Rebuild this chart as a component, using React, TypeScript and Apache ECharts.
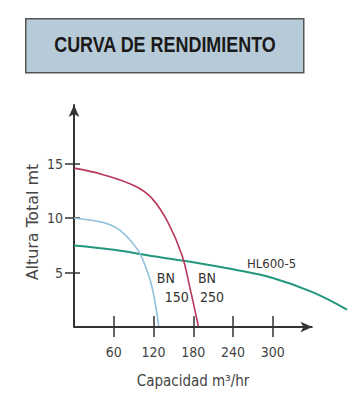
import React, { useEffect, useRef } from "react";
import * as echarts from "echarts";

const title = "CURVA DE RENDIMIENTO";
const xName = "Capacidad m³/hr";
const yName = "Altura Total mt";
const xTicks = [60, 120, 180, 240, 300];
const yTicks = [5, 10, 15];
const xAxisEnd = 360;

// BN 250 (red)
const bn250: [number, number][] = [
  [0, 14.6], [44, 14.0], [92, 12.95], [118, 11.8], [142, 9.6], [163, 6.6], [175, 3.6], [188, 0],
];
// BN 150 (blue)
const bn150: [number, number][] = [
  [0, 10.0], [44, 9.6], [69, 8.9], [95, 7.2], [107, 5.7], [118, 3.6], [128, 0],
];
// HL600-5 (green)
const hl600: [number, number][] = [
  [0, 7.5], [60, 7.1], [120, 6.5], [180, 5.95], [240, 5.3], [300, 4.5], [360, 3.2], [412, 1.6],
];

const annotations = [
  { text: "BN", at: [125, 4.5] },
  { text: "150", at: [137, 2.75] },
  { text: "BN", at: [187, 4.5] },
  { text: "250", at: [190, 2.75] },
  { text: "HL600-5", at: [261, 5.87] },
];

const COND = "'DejaVu Sans Condensed', 'Liberation Sans', Arial, sans-serif";

export default function App() {
  const ref = useRef<HTMLDivElement>(null);
  useEffect(() => {
    if (!ref.current) return;
    const chart = echarts.init(ref.current, undefined, { renderer: "svg" });
    const axisColor = "#333";
    const labelFont = { fontFamily: COND, color: "#444", fontSize: 14 };
    const xMax = 420;
    chart.setOption({
      animation: false,
      backgroundColor: "#fff",
      grid: { left: 74, right: 360 - 74 - xMax * 0.6625, top: 105, bottom: 73 },
      xAxis: [
        {
          type: "value", min: 0, max: xMax, position: "bottom",
          axisLine: { show: false, onZero: false },
          axisTick: { show: true, inside: true, length: 11, customValues: xTicks, lineStyle: { color: axisColor, width: 1.5 } },
          axisLabel: { show: true, customValues: xTicks, margin: 18, ...labelFont },
          splitLine: { show: false },
        },
        {
          type: "value", min: 0, max: xMax, position: "bottom", offset: 0,
          axisLine: { show: false, onZero: false },
          axisTick: { show: true, inside: false, length: 10, customValues: xTicks, lineStyle: { color: axisColor, width: 1.5 } },
          axisLabel: { show: false },
          splitLine: { show: false },
        },
      ],
      yAxis: [
        {
          type: "value", min: 0, max: 20.4, position: "left",
          axisLine: { show: true, onZero: false, symbol: ["none", "arrow"], symbolSize: [8, 12], lineStyle: { color: axisColor, width: 2 } },
          axisTick: { show: true, inside: true, length: 6, customValues: yTicks, lineStyle: { color: axisColor, width: 1.5 } },
          axisLabel: { show: true, customValues: yTicks, margin: 11, ...labelFont },
          splitLine: { show: false },
        },
        {
          type: "value", min: 0, max: 20.4, position: "left", offset: 0,
          axisLine: { show: false, onZero: false },
          axisTick: { show: true, inside: false, length: 9, customValues: yTicks, lineStyle: { color: axisColor, width: 1.5 } },
          axisLabel: { show: false },
          splitLine: { show: false },
        },
      ],
      series: [
        {
          type: "line", data: hl600, smooth: 0.4, showSymbol: false, z: 3,
          lineStyle: { color: "#23977c", width: 2 },
          markPoint: {
            symbol: "circle", symbolSize: 0, silent: true,
            data: annotations.map((a) => ({
              coord: a.at,
              label: {
                show: true, formatter: a.text, position: "inside", align: "left", verticalAlign: "middle",
                fontFamily: COND, fontSize: a.text.length > 3 ? 13 : 14, color: "#333",
              },
            })),
          },
          markLine: {
            silent: true, symbol: ["none", "arrow"], symbolSize: [8, 12],
            label: { show: false },
            lineStyle: { color: axisColor, width: 2, type: "solid" },
            data: [[{ coord: [0, 0] }, { coord: [xAxisEnd, 0] }]],
          },
        },
        {
          type: "line", data: bn150, smooth: 0.4, showSymbol: false, z: 3,
          lineStyle: { color: "#8fc0dc", width: 1.6 },
        },
        {
          type: "line", data: bn250, smooth: 0.4, showSymbol: false, z: 3,
          lineStyle: { color: "#b8385a", width: 1.6 },
        },
      ],
      graphic: [
        {
          type: "rect", left: 25, top: 18,
          shape: { width: 278, height: 54 },
          style: { fill: "#b7cad7", stroke: "#555", lineWidth: 1.5 },
        },
        {
          type: "text", x: 165, y: 44, scaleX: 0.855, scaleY: 1.05,
          style: {
            text: title, align: "center", verticalAlign: "middle",
            font: "bold 21px 'Liberation Sans', Arial, sans-serif",
            fill: "#1a1a1a",
          },
        },
        {
          type: "text", x: 33, y: 222, rotation: Math.PI / 2, scaleX: 1.18,
          style: {
            text: yName, align: "center", verticalAlign: "middle",
            font: "15px " + COND, fill: "#444",
          },
        },
        {
          type: "text", x: 193, y: 381,
          style: {
            text: xName, align: "center", verticalAlign: "middle",
            font: "15px " + COND, fill: "#444",
          },
        },
      ],
    });
    return () => chart.dispose();
  }, []);
  return <div ref={ref} style={{ width: 360, height: 400, position: "absolute", left: 0, top: 0 }} />;
}
